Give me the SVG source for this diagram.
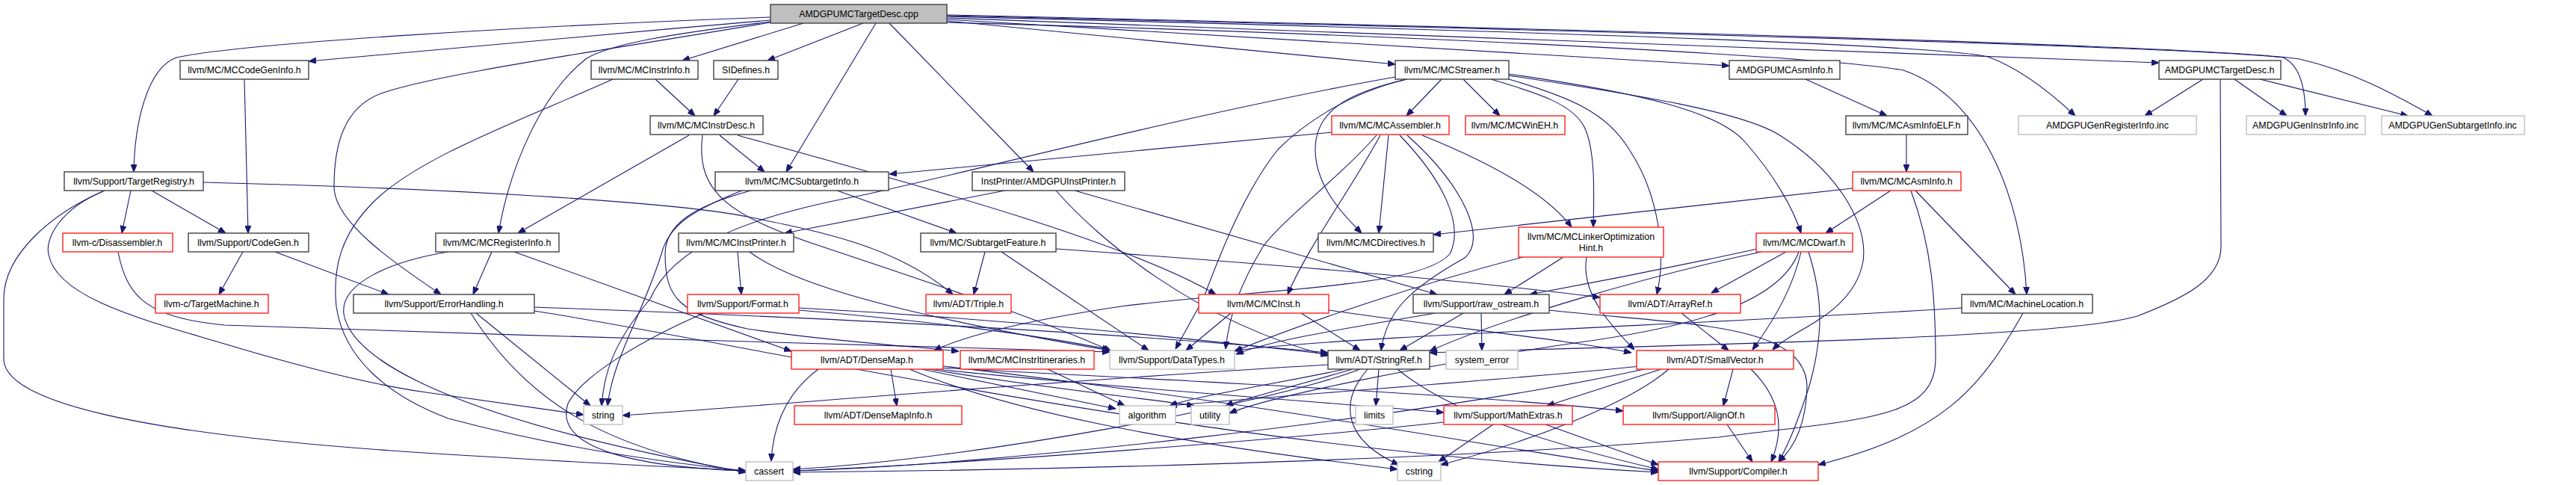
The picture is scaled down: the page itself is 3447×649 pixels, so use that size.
<svg xmlns="http://www.w3.org/2000/svg" width="3447" height="649" viewBox="0 0 3447 649">
<style>
.n rect{fill:#fff;stroke:#404040;stroke-width:1.4}
.r rect{fill:#fff;stroke:#ff2020;stroke-width:1.4}
.g rect{fill:#fff;stroke:#bfbfbf;stroke-width:1.4}
.root rect{fill:#bfbfbf;stroke:#404040;stroke-width:1.4}
text{font-family:"Liberation Sans",Arial,sans-serif;font-size:12.4px;text-anchor:middle;fill:#000}
#edges path{fill:none;stroke:#191970;stroke-width:1.1;marker-end:url(#a)}
</style>
<defs>
<marker id="a" markerWidth="10" markerHeight="8" refX="10" refY="4" orient="auto" markerUnits="userSpaceOnUse"><path d="M0,0 L10,4 L0,8 z" fill="#191970" stroke="#191970" stroke-width="1"/></marker>
</defs>
<rect width="3447" height="649" fill="#fff"/>
<g id="edges">
<path d="M1031,27 C820,45 600,65 413,82"/>
<path d="M1031,23 C700,35 320,58 236,77 C195,92 180,170 179,230"/>
<path d="M1031,29 C900,45 820,58 785,78 C725,125 683,220 667,312"/>
<path d="M1031,30 C780,72 580,100 510,125 C462,143 447,190 447,250 C447,300 540,360 590,394"/>
<path d="M1075,31 L913,81"/>
<path d="M1155,31 L1027,81"/>
<path d="M1172,31 L1052,230"/>
<path d="M1190,31 L1383,230"/>
<path d="M1267,28 L1867,86"/>
<path d="M1267,26 L2314,88"/>
<path d="M1267,24 L2889,84"/>
<path d="M1267,22 C1900,38 2590,58 2660,76 C2705,92 2745,125 2777,155"/>
<path d="M1267,21 C2000,38 2920,62 3055,77 C3080,88 3085,125 3085,155"/>
<path d="M1267,20 C2050,38 2950,60 3077,79 C3150,96 3205,127 3255,155"/>
<path d="M1267,30 C1900,47 2450,76 2547,94 C2650,130 2705,260 2712,394"/>
<path d="M327,106 L332,312"/>
<path d="M877,106 L930,155"/>
<path d="M820,106 C700,160 560,210 500,270 C455,315 445,360 450,410 C460,480 520,530 600,560 C750,600 900,620 998,630"/>
<path d="M988,106 L955,155"/>
<path d="M922,181 L693,312"/>
<path d="M963,181 L1023,230"/>
<path d="M987,181 C1200,240 1500,320 1627,394"/>
<path d="M940,181 C930,260 980,290 1100,330 C1250,380 1400,430 1487,470"/>
<path d="M175,255 L163,312"/>
<path d="M203,255 L302,312"/>
<path d="M272,244 C600,252 900,270 1000,290 C1100,310 1200,330 1275,394"/>
<path d="M140,255 C70,285 5,340 5,400 L5,480 C5,540 200,580 523,603 C700,615 900,625 998,630"/>
<path d="M138,256 C80,280 60,320 65,340 C75,400 200,430 300,460 C400,490 500,515 570,525 L781,555"/>
<path d="M1120,255 L1280,312"/>
<path d="M993,255 C930,280 895,300 885,340 C860,420 820,480 813,543"/>
<path d="M1005,255 C930,275 890,300 890,340 C890,400 910,420 1000,440 C1100,455 1200,462 1283,470"/>
<path d="M1345,255 L1050,312"/>
<path d="M1413,255 C1470,320 1600,430 1777,476"/>
<path d="M1438,255 L1923,394"/>
<path d="M1929,106 L1882,155"/>
<path d="M1958,106 L2007,155"/>
<path d="M1882,106 C1800,125 1760,150 1760,200 C1760,250 1800,290 1822,312"/>
<path d="M1995,106 C2060,125 2105,140 2120,170 C2135,200 2133,260 2132,304"/>
<path d="M2019,99 C2200,125 2300,150 2335,190 C2375,235 2400,280 2410,312"/>
<path d="M2019,106 C2100,130 2150,150 2180,200 C2220,260 2230,340 2217,394"/>
<path d="M2019,101 C2200,128 2330,150 2380,180 C2460,230 2500,300 2493,350 C2480,420 2400,440 2372,468"/>
<path d="M1883,106 C1800,125 1740,170 1710,200 C1670,250 1640,320 1610,400 L1573,467"/>
<path d="M1867,103 C1600,150 1300,230 1150,262 C1000,290 900,330 870,400 C820,460 808,500 805,543"/>
<path d="M1782,177 L1190,233"/>
<path d="M1858,181 L1845,312"/>
<path d="M1847,181 C1810,250 1750,330 1723,394"/>
<path d="M1873,181 C1930,240 1960,300 1940,340 C1900,385 1700,385 1500,410 C1400,425 1300,445 1250,469"/>
<path d="M1883,181 C1960,250 1990,320 1960,345 C1880,390 1855,420 1848,469"/>
<path d="M1903,181 C2000,220 2070,260 2103,304"/>
<path d="M1842,181 C1790,240 1720,290 1690,330 C1660,380 1645,420 1640,467"/>
<path d="M2416,106 L2525,155"/>
<path d="M2551,180 L2551,230"/>
<path d="M2530,255 L2443,312"/>
<path d="M2479,252 L1918,314"/>
<path d="M2563,255 L2697,394"/>
<path d="M2557,255 C2585,330 2590,400 2590,480 C2590,560 2500,560 2300,585 C1900,620 1300,630 1061,632"/>
<path d="M2948,106 L2870,155"/>
<path d="M2990,106 L3060,155"/>
<path d="M3024,106 L3222,155"/>
<path d="M2971,106 L2972,330 C2972,375 2920,400 2860,423 C2750,455 2200,462 1913,472"/>
<path d="M325,337 L293,394"/>
<path d="M368,337 L520,394"/>
<path d="M158,337 C170,400 200,425 300,435 C700,450 1200,462 1485,471"/>
<path d="M658,337 L633,394"/>
<path d="M688,337 L1059,470"/>
<path d="M600,337 C520,350 455,380 460,420 C470,480 600,560 998,632"/>
<path d="M987,337 L992,394"/>
<path d="M1003,337 C1060,380 1200,420 1485,469"/>
<path d="M1318,337 L1303,394"/>
<path d="M1340,337 L1537,469"/>
<path d="M1413,333 C1800,360 2000,380 2141,398"/>
<path d="M2092,344 L2013,394"/>
<path d="M2123,344 C2115,390 2150,430 2187,468"/>
<path d="M2038,344 C1900,380 1750,430 1652,470"/>
<path d="M1982,419 L1983,469"/>
<path d="M1958,419 L1873,469"/>
<path d="M1920,419 C1800,440 1700,455 1654,474"/>
<path d="M2073,415 C2250,435 2420,430 2418,520 C2416,570 2400,600 2380,618"/>
<path d="M2250,419 L2313,469"/>
<path d="M2390,337 L2290,392"/>
<path d="M2357,337 C2200,370 2000,430 1913,470"/>
<path d="M2352,333 C2250,355 2150,375 2047,394"/>
<path d="M2410,337 C2400,380 2380,420 2345,468"/>
<path d="M2420,337 C2440,400 2440,450 2420,520 C2400,580 2390,600 2380,618"/>
<path d="M2407,337 C2380,410 2250,440 2100,460 C1900,490 1700,530 1645,553"/>
<path d="M2625,412 C2300,433 1800,450 1652,469"/>
<path d="M2707,419 C2650,520 2600,580 2433,622"/>
<path d="M2319,494 L2306,543"/>
<path d="M2343,494 C2380,530 2390,570 2370,618"/>
<path d="M2223,494 L2070,543"/>
<path d="M2233,494 C2180,540 2050,590 1928,622"/>
<path d="M2200,494 C1900,560 1300,625 1061,630"/>
<path d="M2195,490 C2000,510 1700,530 1565,543"/>
<path d="M2311,568 L2345,618"/>
<path d="M2068,568 L2219,622"/>
<path d="M1998,568 L1925,618"/>
<path d="M1932,565 C1700,590 1300,620 1061,630"/>
<path d="M1845,494 L1841,543"/>
<path d="M1830,494 C1790,540 1800,590 1872,622"/>
<path d="M1800,494 C1700,515 1600,530 1565,543"/>
<path d="M1810,494 C1720,520 1660,535 1640,543"/>
<path d="M1820,494 C1700,540 1300,615 1061,628"/>
<path d="M1777,488 C1400,510 1000,545 833,556"/>
<path d="M1870,494 C1950,560 2100,600 2219,628"/>
<path d="M1192,494 L1200,543"/>
<path d="M1233,494 L1493,547"/>
<path d="M1243,494 C1400,520 1550,535 1598,543"/>
<path d="M1095,494 C1060,520 1035,560 1032,617"/>
<path d="M1217,494 C1350,550 1550,590 1870,628"/>
<path d="M1252,494 C1500,520 1800,540 1932,552"/>
<path d="M1255,492 C1600,510 2000,530 2172,550"/>
<path d="M1262,490 C1700,540 2000,600 2219,630"/>
<path d="M1402,494 L1505,543"/>
<path d="M1647,419 L1587,469"/>
<path d="M1741,419 L1820,469"/>
<path d="M1778,415 C1950,440 2100,455 2183,472"/>
<path d="M942,419 C870,450 780,500 760,540 C740,600 850,625 998,630"/>
<path d="M1069,415 C1250,430 1400,450 1485,468"/>
<path d="M1069,412 C1400,430 1650,460 1777,474"/>
<path d="M637,419 L790,543"/>
<path d="M630,419 C700,530 800,600 998,632"/>
<path d="M715,411 C1100,425 1500,445 1777,472"/>
<path d="M715,416 C1000,460 1600,600 2219,632"/>
</g>
<g id="n_root" class="root"><rect x="1031" y="6" width="236" height="25"/><text x="1149" y="23">AMDGPUMCTargetDesc.cpp</text></g>
<g id="n_codegeninfo" class="n"><rect x="241" y="81" width="172" height="25"/><text x="327" y="98">llvm/MC/MCCodeGenInfo.h</text></g>
<g id="n_instrinfo" class="n"><rect x="791" y="81" width="143" height="25"/><text x="862" y="98">llvm/MC/MCInstrInfo.h</text></g>
<g id="n_sidefines" class="n"><rect x="955" y="81" width="86" height="25"/><text x="998" y="98">SIDefines.h</text></g>
<g id="n_streamer" class="n"><rect x="1867" y="81" width="152" height="25"/><text x="1943" y="98">llvm/MC/MCStreamer.h</text></g>
<g id="n_asminfo_amd" class="n"><rect x="2314" y="81" width="148" height="25"/><text x="2388" y="98">AMDGPUMCAsmInfo.h</text></g>
<g id="n_targetdesc_h" class="n"><rect x="2889" y="81" width="163" height="25"/><text x="2970" y="98">AMDGPUMCTargetDesc.h</text></g>
<g id="n_instrdesc" class="n"><rect x="870" y="155" width="151" height="25"/><text x="945" y="172">llvm/MC/MCInstrDesc.h</text></g>
<g id="n_assembler" class="r"><rect x="1782" y="155" width="157" height="25"/><text x="1860" y="172">llvm/MC/MCAssembler.h</text></g>
<g id="n_wineh" class="r"><rect x="1961" y="155" width="133" height="25"/><text x="2027" y="172">llvm/MC/MCWinEH.h</text></g>
<g id="n_asminfoelf" class="n"><rect x="2470" y="155" width="163" height="25"/><text x="2551" y="172">llvm/MC/MCAsmInfoELF.h</text></g>
<g id="n_genreg" class="g"><rect x="2701" y="155" width="238" height="25"/><text x="2820" y="172">AMDGPUGenRegisterInfo.inc</text></g>
<g id="n_geninstr" class="g"><rect x="3006" y="155" width="159" height="25"/><text x="3085" y="172">AMDGPUGenInstrInfo.inc</text></g>
<g id="n_gensub" class="g"><rect x="3187" y="155" width="191" height="25"/><text x="3282" y="172">AMDGPUGenSubtargetInfo.inc</text></g>
<g id="n_targetregistry" class="n"><rect x="86" y="230" width="186" height="25"/><text x="179" y="247">llvm/Support/TargetRegistry.h</text></g>
<g id="n_subtargetinfo" class="n"><rect x="957" y="230" width="232" height="25"/><text x="1073" y="247">llvm/MC/MCSubtargetInfo.h</text></g>
<g id="n_instprinter_amd" class="n"><rect x="1301" y="230" width="204" height="25"/><text x="1403" y="247">InstPrinter/AMDGPUInstPrinter.h</text></g>
<g id="n_asminfo" class="r"><rect x="2479" y="230" width="145" height="25"/><text x="2551" y="247">llvm/MC/MCAsmInfo.h</text></g>
<g id="n_disassembler" class="r"><rect x="84" y="312" width="147" height="25"/><text x="157" y="329">llvm-c/Disassembler.h</text></g>
<g id="n_codegen" class="n"><rect x="252" y="312" width="161" height="25"/><text x="332" y="329">llvm/Support/CodeGen.h</text></g>
<g id="n_registerinfo" class="n"><rect x="583" y="312" width="165" height="25"/><text x="665" y="329">llvm/MC/MCRegisterInfo.h</text></g>
<g id="n_instprinter" class="n"><rect x="908" y="312" width="154" height="25"/><text x="985" y="329">llvm/MC/MCInstPrinter.h</text></g>
<g id="n_subtargetfeature" class="n"><rect x="1232" y="312" width="181" height="25"/><text x="1322" y="329">llvm/MC/SubtargetFeature.h</text></g>
<g id="n_directives" class="n"><rect x="1764" y="312" width="154" height="25"/><text x="1841" y="329">llvm/MC/MCDirectives.h</text></g>
<g id="n_loh" class="r"><rect x="2032" y="304" width="194" height="40"/><text x="2129" y="321">llvm/MC/MCLinkerOptimization</text><text x="2129" y="336">Hint.h</text></g>
<g id="n_dwarf" class="r"><rect x="2350" y="312" width="129" height="25"/><text x="2414" y="329">llvm/MC/MCDwarf.h</text></g>
<g id="n_targetmachine" class="r"><rect x="208" y="394" width="151" height="25"/><text x="283" y="411">llvm-c/TargetMachine.h</text></g>
<g id="n_errorhandling" class="n"><rect x="473" y="394" width="242" height="25"/><text x="594" y="411">llvm/Support/ErrorHandling.h</text></g>
<g id="n_format" class="r"><rect x="920" y="394" width="149" height="25"/><text x="994" y="411">llvm/Support/Format.h</text></g>
<g id="n_triple" class="r"><rect x="1239" y="394" width="114" height="25"/><text x="1296" y="411">llvm/ADT/Triple.h</text></g>
<g id="n_inst" class="r"><rect x="1604" y="394" width="174" height="25"/><text x="1691" y="411">llvm/MC/MCInst.h</text></g>
<g id="n_rawostream" class="n"><rect x="1891" y="394" width="182" height="25"/><text x="1982" y="411">llvm/Support/raw_ostream.h</text></g>
<g id="n_arrayref" class="r"><rect x="2141" y="394" width="188" height="25"/><text x="2235" y="411">llvm/ADT/ArrayRef.h</text></g>
<g id="n_machinelocation" class="n"><rect x="2625" y="394" width="175" height="25"/><text x="2712" y="411">llvm/MC/MachineLocation.h</text></g>
<g id="n_densemap" class="r"><rect x="1059" y="469" width="203" height="25"/><text x="1160" y="486">llvm/ADT/DenseMap.h</text></g>
<g id="n_itineraries" class="r"><rect x="1285" y="469" width="179" height="25"/><text x="1374" y="486">llvm/MC/MCInstrItineraries.h</text></g>
<g id="n_datatypes" class="g"><rect x="1485" y="469" width="167" height="25"/><text x="1568" y="486">llvm/Support/DataTypes.h</text></g>
<g id="n_stringref" class="n"><rect x="1777" y="469" width="136" height="25"/><text x="1845" y="486">llvm/ADT/StringRef.h</text></g>
<g id="n_systemerror" class="g"><rect x="1935" y="469" width="96" height="25"/><text x="1983" y="486">system_error</text></g>
<g id="n_smallvector" class="r"><rect x="2190" y="469" width="210" height="25"/><text x="2295" y="486">llvm/ADT/SmallVector.h</text></g>
<g id="n_string" class="g"><rect x="781" y="543" width="52" height="25"/><text x="807" y="560">string</text></g>
<g id="n_densemapinfo" class="r"><rect x="1063" y="543" width="224" height="25"/><text x="1175" y="560">llvm/ADT/DenseMapInfo.h</text></g>
<g id="n_algorithm" class="g"><rect x="1498" y="543" width="75" height="25"/><text x="1535" y="560">algorithm</text></g>
<g id="n_utility" class="g"><rect x="1594" y="543" width="51" height="25"/><text x="1619" y="560">utility</text></g>
<g id="n_limits" class="g"><rect x="1814" y="543" width="50" height="25"/><text x="1839" y="560">limits</text></g>
<g id="n_mathextras" class="r"><rect x="1932" y="543" width="172" height="25"/><text x="2018" y="560">llvm/Support/MathExtras.h</text></g>
<g id="n_alignof" class="r"><rect x="2172" y="543" width="203" height="25"/><text x="2273" y="560">llvm/Support/AlignOf.h</text></g>
<g id="n_cassert" class="g"><rect x="998" y="618" width="63" height="25"/><text x="1029" y="635">cassert</text></g>
<g id="n_cstring" class="g"><rect x="1870" y="618" width="58" height="25"/><text x="1899" y="635">cstring</text></g>
<g id="n_compiler" class="r"><rect x="2219" y="618" width="214" height="25"/><text x="2326" y="635">llvm/Support/Compiler.h</text></g>
</svg>
